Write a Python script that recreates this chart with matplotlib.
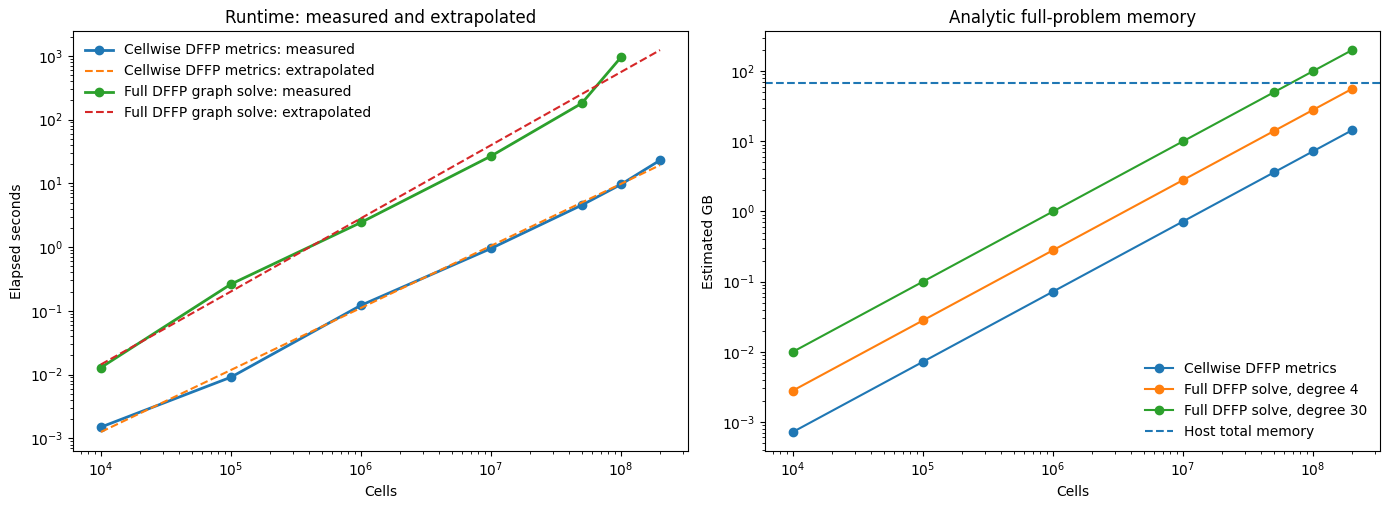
import matplotlib
matplotlib.use("Agg")
import matplotlib.pyplot as plt

# Liczba komórek (wspólna oś X)
cells = [1e4, 1e5, 1e6, 1e7, 5e7, 1e8, 2e8]

# Czas: pomiary i ekstrapolacja
cellwise_measured = [0.0015, 0.0091, 0.122, 0.95, 4.55, 9.6, 23.0]
cellwise_extrap = [0.00126, 0.0118, 0.111, 1.045, 5.0, 9.8, 19.3]
full_cells = [1e4, 1e5, 1e6, 1e7, 5e7, 1e8]
full_measured = [0.0129, 0.262, 2.43, 26.7, 180.0, 946.0]
full_extrap = [0.0144, 0.201, 2.83, 39.6, 251.0, 556.0, 1230.0]

# Pamięć analityczna (GB)
mem_cellwise = [0.00072, 0.0072, 0.072, 0.72, 3.6, 7.2, 14.4]
mem_deg4 = [0.0028, 0.028, 0.28, 2.8, 14.0, 28.0, 56.0]
mem_deg30 = [0.01, 0.1, 1.0, 10.0, 50.0, 100.0, 200.0]
host_memory_gb = 68.0

fig, (ax1, ax2) = plt.subplots(1, 2, figsize=(13.9, 5.09), dpi=100)

# Lewy wykres: czas
ax1.plot(cells, cellwise_measured, marker="o", linewidth=2,
         label="Cellwise DFFP metrics: measured")
ax1.plot(cells, cellwise_extrap, linestyle="--",
         label="Cellwise DFFP metrics: extrapolated")
ax1.plot(full_cells, full_measured, marker="o", linewidth=2,
         label="Full DFFP graph solve: measured")
ax1.plot(cells, full_extrap, linestyle="--",
         label="Full DFFP graph solve: extrapolated")
ax1.set_xscale("log")
ax1.set_yscale("log")
ax1.set_title("Runtime: measured and extrapolated")
ax1.set_xlabel("Cells")
ax1.set_ylabel("Elapsed seconds")
ax1.legend(loc="upper left", frameon=False)

# Prawy wykres: pamięć
ax2.plot(cells, mem_cellwise, marker="o", label="Cellwise DFFP metrics")
ax2.plot(cells, mem_deg4, marker="o", label="Full DFFP solve, degree 4")
ax2.plot(cells, mem_deg30, marker="o", label="Full DFFP solve, degree 30")
ax2.axhline(host_memory_gb, color="C0", linestyle="--", label="Host total memory")
ax2.set_xscale("log")
ax2.set_yscale("log")
ax2.set_title("Analytic full-problem memory")
ax2.set_xlabel("Cells")
ax2.set_ylabel("Estimated GB")
ax2.legend(loc="lower right", frameon=False)

# Układ dopasowany do oryginału
fig.subplots_adjust(left=0.0525, right=0.9928, top=0.9391, bottom=0.1139,
                    wspace=0.1252)
plt.savefig("out.png")
